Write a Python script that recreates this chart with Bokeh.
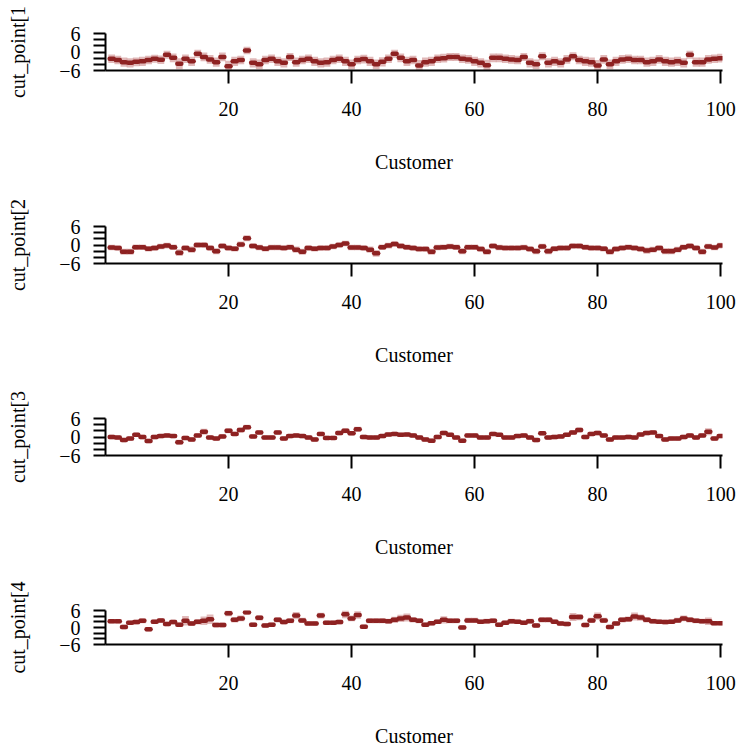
from bokeh.plotting import figure
from bokeh.layouts import column
from bokeh.models import FixedTicker, ColumnDataSource
from bokeh.embed import file_html
from bokeh.resources import INLINE

customers = list(range(1, 101))

cut1 = [-2.2, -2.6, -3.3, -3.5, -3.2, -3.0, -2.6, -2.2, -2.5, -0.9,
        -1.9, -3.8, -2.2, -3.0, -0.6, -1.6, -2.4, -3.3, -1.6, -4.6,
        -3.0, -2.6, 0.5, -3.5, -4.0, -2.6, -2.2, -3.0, -3.5, -1.6,
        -3.3, -2.6, -2.2, -3.0, -3.5, -3.3, -2.6, -2.2, -3.0, -4.0,
        -2.6, -2.3, -3.0, -4.0, -3.2, -2.2, -0.6, -1.9, -3.0, -2.6,
        -4.4, -3.3, -3.0, -2.2, -2.0, -1.6, -1.6, -2.2, -2.4, -3.0,
        -3.5, -4.3, -1.9, -1.9, -2.2, -2.4, -2.6, -1.6, -3.5, -4.0,
        -1.4, -3.5, -3.0, -3.5, -2.4, -1.4, -2.6, -3.0, -3.3, -4.4,
        -2.4, -4.0, -3.0, -2.4, -2.2, -2.6, -2.6, -3.3, -3.0, -2.4,
        -3.0, -3.3, -3.0, -3.5, -0.9, -3.3, -3.3, -2.4, -2.2, -2.0]
cut2 = [-0.8, -1.0, -2.2, -2.2, -0.7, -0.7, -1.2, -1.0, -0.5, -0.2,
        -0.7, -2.5, -1.0, -1.5, 0.0, 0.0, -1.0, -2.0, -0.3, -1.0,
        -1.2, 0.2, 2.2, -0.3, -0.8, -1.2, -0.8, -0.8, -1.0, -0.7,
        -1.5, -2.2, -1.0, -1.2, -1.0, -1.0, -0.5, 0.0, 0.5, -0.8,
        -0.8, -1.0, -1.5, -2.7, -0.7, -0.2, 0.3, -0.3, -0.7, -1.0,
        -1.3, -1.3, -2.2, -0.8, -0.7, -0.5, -0.7, -2.0, -0.7, -0.7,
        -1.3, -2.2, -0.3, -0.8, -1.0, -1.0, -1.0, -0.8, -1.3, -2.0,
        -0.5, -2.0, -1.2, -1.0, -1.0, -0.3, -0.3, -0.7, -1.0, -1.0,
        -1.2, -2.2, -1.3, -1.0, -0.7, -1.0, -1.3, -1.8, -1.5, -1.0,
        -2.0, -2.0, -1.5, -0.7, -0.3, -1.0, -2.2, -0.5, -0.8, -0.2]
cut3 = [0.0, -0.2, -1.0, -0.5, 0.7, 0.0, -1.3, 0.0, 0.3, 0.5,
        0.3, -1.7, -0.3, -0.8, 0.5, 1.7, -0.2, -0.5, 0.2, 2.0,
        1.0, 2.3, 3.2, 0.2, 1.5, -0.2, -0.2, 1.5, -0.5, 0.3,
        0.5, 0.3, -0.2, -0.8, 1.0, -0.3, -0.3, 1.3, 2.0, 1.2,
        2.5, 0.0, -0.2, -0.2, 0.3, 0.8, 1.0, 0.7, 0.8, 0.5,
        -0.2, -0.8, -1.2, 0.0, 1.3, 0.7, -0.2, -1.2, 0.5, 0.5,
        -0.2, -0.2, 1.0, 0.7, -0.2, -0.2, 0.3, 0.5, -0.2, -1.0,
        1.2, -0.2, 0.0, 0.2, 0.7, 1.5, 2.3, 0.0, 1.0, 1.3,
        0.5, -0.8, -0.2, -0.2, 0.0, -0.2, 0.8, 1.3, 1.5, 0.3,
        -0.8, -0.5, -0.5, 0.0, 0.5, -0.2, 0.5, 1.7, -0.5, 0.3]
cut4 = [2.2, 2.2, 0.2, 1.7, 1.9, 2.4, -0.6, 2.0, 2.5, 1.2,
        1.9, 1.0, 2.4, 1.4, 2.0, 2.4, 2.9, 0.9, 0.9, 5.0,
        2.7, 3.2, 5.4, 1.0, 3.4, 0.7, 1.0, 2.7, 1.9, 2.4,
        4.2, 2.5, 1.4, 1.4, 4.2, 1.7, 1.7, 1.9, 4.7, 3.2,
        4.4, 0.3, 2.4, 2.4, 2.4, 2.2, 2.7, 3.2, 3.5, 2.7,
        2.4, 1.0, 1.5, 2.0, 2.7, 2.4, 2.4, 0.0, 2.5, 2.5,
        2.0, 2.2, 2.4, 1.0, 1.7, 2.2, 2.0, 1.7, 2.2, 0.7,
        2.7, 2.7, 2.0, 1.4, 1.2, 3.7, 3.7, 0.9, 2.5, 4.0,
        2.5, 0.2, 1.4, 2.7, 2.9, 3.9, 3.5, 2.7, 2.2, 2.0,
        1.9, 2.0, 2.5, 3.2, 2.7, 2.4, 2.2, 2.2, 1.5, 1.5]

# interval half-widths
hw1 = [1.4, 1.4, 1.5, 1.5, 1.4, 1.5, 1.4, 1.3, 1.4, 1.3,
       1.4, 1.8, 1.4, 1.5, 1.3, 1.4, 1.4, 1.5, 1.4, 1.8,
       1.5, 1.4, 1.2, 1.5, 1.6, 1.4, 1.4, 1.5, 1.5, 1.3,
       1.5, 1.4, 1.4, 1.5, 1.5, 1.5, 1.4, 1.4, 1.5, 1.6,
       1.4, 1.4, 1.5, 1.6, 1.5, 1.4, 1.3, 1.4, 1.5, 1.4,
       1.8, 1.5, 1.5, 1.4, 1.4, 1.3, 1.3, 1.4, 1.4, 1.5,
       1.5, 1.8, 1.4, 1.4, 1.4, 1.4, 1.4, 1.3, 1.5, 1.6,
       1.3, 1.5, 1.5, 1.5, 1.4, 1.3, 1.4, 1.5, 1.5, 1.8,
       1.4, 1.6, 1.5, 1.4, 1.4, 1.4, 1.4, 1.5, 1.5, 1.4,
       1.5, 1.5, 1.5, 1.5, 1.3, 1.5, 1.5, 1.4, 1.4, 1.4]
hw2 = [0.9, 0.9, 1.0, 1.0, 0.9, 0.9, 0.9, 0.9, 0.9, 0.9,
       0.9, 1.1, 0.9, 1.0, 0.9, 0.9, 0.9, 1.0, 0.9, 0.9,
       0.9, 0.9, 1.0, 0.9, 0.9, 0.9, 0.9, 0.9, 0.9, 0.9,
       1.0, 1.0, 0.9, 0.9, 0.9, 0.9, 0.9, 0.9, 0.9, 0.9,
       0.9, 0.9, 1.0, 1.1, 0.9, 0.9, 0.9, 0.9, 0.9, 0.9,
       0.9, 0.9, 1.0, 0.9, 0.9, 0.9, 0.9, 1.0, 0.9, 0.9,
       0.9, 1.0, 0.9, 0.9, 0.9, 0.9, 0.9, 0.9, 0.9, 1.0,
       0.9, 1.0, 0.9, 0.9, 0.9, 0.9, 0.9, 0.9, 0.9, 0.9,
       0.9, 1.0, 0.9, 0.9, 0.9, 0.9, 0.9, 1.0, 0.9, 0.9,
       1.0, 1.0, 0.9, 0.9, 0.9, 0.9, 1.0, 0.9, 0.9, 0.9]
hw3 = [0.7, 0.7, 0.7, 0.7, 0.7, 0.7, 0.7, 0.7, 0.7, 0.7,
       0.7, 0.8, 0.7, 0.7, 0.7, 1.0, 0.7, 0.7, 0.7, 0.8,
       0.7, 0.8, 0.8, 0.7, 0.7, 0.7, 0.7, 0.7, 0.7, 0.7,
       0.7, 0.7, 0.7, 0.7, 0.7, 0.7, 0.7, 0.7, 0.8, 0.7,
       0.8, 0.7, 0.7, 0.7, 0.7, 0.7, 0.7, 0.7, 0.7, 0.7,
       0.7, 0.7, 0.7, 0.7, 0.7, 0.7, 0.7, 0.7, 0.7, 0.7,
       0.7, 0.7, 0.7, 0.7, 0.7, 0.7, 0.7, 0.7, 0.7, 0.7,
       0.7, 0.7, 0.7, 0.7, 0.7, 0.8, 0.8, 0.7, 0.7, 0.7,
       0.7, 0.7, 0.7, 0.7, 0.7, 0.7, 0.7, 0.7, 0.7, 0.7,
       0.7, 0.7, 0.7, 0.7, 0.7, 0.7, 0.7, 1.1, 0.7, 0.7]
hw4 = [0.8, 0.8, 0.8, 0.8, 0.8, 0.9, 0.8, 0.8, 0.8, 0.8,
       0.8, 0.8, 1.7, 0.9, 0.9, 1.5, 1.7, 0.9, 0.9, 1.0,
       0.9, 1.0, 1.0, 0.8, 0.9, 0.8, 0.8, 0.9, 0.8, 0.9,
       1.3, 0.9, 0.8, 0.8, 1.0, 0.8, 0.8, 0.8, 1.4, 1.0,
       1.3, 0.8, 0.9, 0.9, 0.9, 0.9, 1.1, 1.3, 1.4, 0.9,
       0.9, 0.8, 0.8, 0.8, 1.3, 0.9, 0.9, 0.8, 0.9, 0.9,
       0.8, 0.9, 0.9, 0.8, 0.8, 0.9, 0.8, 0.8, 0.9, 0.8,
       0.9, 0.9, 0.8, 0.8, 0.8, 1.4, 1.1, 0.8, 0.9, 1.3,
       0.9, 0.8, 0.8, 0.9, 1.0, 1.4, 1.1, 0.9, 0.9, 0.8,
       0.8, 0.8, 0.9, 1.0, 0.9, 0.9, 0.9, 1.3, 0.8, 0.8]

series = [cut1, cut2, cut3, cut4]
spreads = [hw1, hw2, hw3, hw4]
ylabels = ["cut_point[1", "cut_point[2", "cut_point[3", "cut_point[4"]
x_ticks = [20, 40, 60, 80, 100]
y_ticks = [-6, -4, -2, 0, 2, 4, 6]
y_tick_labels = {-6: "\u22126", -4: "", -2: "", 0: "0", 2: "", 4: "", 6: "6"}

DARK = "#8E2222"
FONT = "Liberation Serif"
heights = [193, 192, 192, 172]

figs = []
for i in range(4):
    vals = series[i]
    hw = spreads[i]
    lo = [v - h for v, h in zip(vals, hw)]
    hi = [v + h for v, h in zip(vals, hw)]
    src = ColumnDataSource(dict(x=customers, y=vals, lo=lo, hi=hi))
    p = figure(width=738, height=heights[i], x_range=(0, 100.3), y_range=(-6, 6),
               output_backend="svg", toolbar_location=None,
               min_border_left=105, min_border_right=16, min_border_top=33,
               min_border_bottom=heights[i] - 70)
    p.outline_line_color = None
    p.grid.visible = False
    p.background_fill_color = "white"
    p.border_fill_color = "white"

    p.vbar(x="x", bottom="lo", top="hi", width=1.1, source=src,
           fill_color="#C98080", fill_alpha=0.55, line_color=None)
    p.scatter(x="x", y="y", source=src, marker="dash", size=4,
              line_color=DARK, line_width=4.5, line_cap="round")

    xa = p.xaxis[0]
    xa.ticker = FixedTicker(ticks=x_ticks)
    xa.axis_label = "Customer"
    ya = p.yaxis[0]
    ya.ticker = FixedTicker(ticks=y_ticks)
    ya.major_label_overrides = y_tick_labels
    ya.axis_label = ylabels[i]
    ya.major_label_orientation = "horizontal"
    for ax in (xa, ya):
        ax.axis_line_width = 2
        ax.axis_line_color = "black"
        ax.major_tick_line_width = 2
        ax.major_tick_line_color = "black"
        ax.minor_tick_line_color = None
        ax.major_tick_in = 0
        ax.major_tick_out = 12
        ax.major_label_text_font = FONT
        ax.major_label_text_font_size = "20px"
        ax.major_label_text_color = "black"
        ax.axis_label_text_font = FONT
        ax.axis_label_text_font_size = "20px"
        ax.axis_label_text_font_style = "normal"
        ax.axis_label_text_color = "black"
    xa.major_tick_out = 13
    xa.major_label_standoff = 18
    xa.axis_label_standoff = 32
    ya.major_label_standoff = 13
    ya.axis_label_standoff = 27
    figs.append(p)

layout = column(*figs, spacing=0)
open("out.html", "w").write(file_html(layout, INLINE))
